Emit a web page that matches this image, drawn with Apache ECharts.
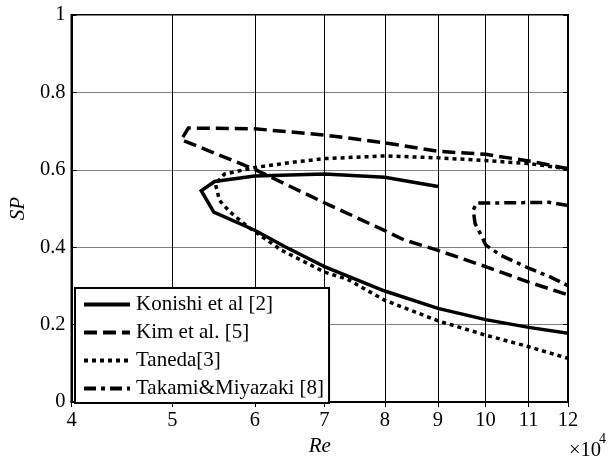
<!DOCTYPE html>
<html>
<head>
<meta charset="utf-8">
<script src="https://cdn.jsdelivr.net/npm/echarts@6/dist/echarts.min.js"></script>
<style>html,body{margin:0;padding:0;background:#fff;}#c{width:611px;height:462px;}</style>
</head>
<body>
<div id="c"></div>
<script>
// x values in units of 10^4 (Re / 1e4), y = SP
var xTicks = [4, 5, 6, 7, 8, 9, 10, 11, 12];
var yTicks = [0, 0.2, 0.4, 0.6, 0.8, 1];

var konishiRe = [9, 8, 7, 6, 5.49, 5.33, 5.48, 6, 6.41, 7, 8, 9, 10, 11, 12];
var konishiSP = [0.557, 0.581, 0.589, 0.584, 0.570, 0.546, 0.491, 0.444, 0.402, 0.350, 0.287, 0.242, 0.213, 0.193, 0.178];

var kimRe = [12, 11, 10, 9, 8, 7, 6, 5.18, 5.10, 6, 7, 8, 8.35, 9, 10, 11, 12];
var kimSP = [0.603, 0.623, 0.640, 0.648, 0.670, 0.690, 0.706, 0.708, 0.678, 0.601, 0.515, 0.443, 0.419, 0.392, 0.350, 0.310, 0.277];

var tanedaRe = [12, 11, 10, 9, 8, 7, 6.5, 6, 5.61, 5.5, 5.55, 5.68, 5.91, 6.36, 7, 7.37, 8, 9, 10, 11, 12];
var tanedaSP = [0.603, 0.616, 0.624, 0.631, 0.636, 0.629, 0.619, 0.606, 0.589, 0.563, 0.521, 0.491, 0.453, 0.393, 0.336, 0.317, 0.263, 0.210, 0.173, 0.143, 0.113];

var takamiRe = [12, 11.5, 9.8, 9.73, 9.77, 9.92, 10, 10.33, 11, 11.5, 12];
var takamiSP = [0.508, 0.516, 0.514, 0.496, 0.461, 0.427, 0.406, 0.380, 0.346, 0.325, 0.301];

var seriesNames = ['Konishi et al [2]', 'Kim et al. [5]', 'Taneda[3]', 'Takami&Miyazaki [8]'];

function pairs(xs, ys) {
  var out = [];
  for (var i = 0; i < xs.length; i++) out.push([xs[i] * 1e4, ys[i]]);
  return out;
}
var tickValues = xTicks.map(function (v) { return v * 1e4; });

var font = "'Liberation Serif', 'Times New Roman', Times, serif";
var chart = echarts.init(document.getElementById('c'), null, { renderer: 'canvas' });

function mkSeries(name, xs, ys, dash, width) {
  return {
    name: name,
    type: 'line',
    data: pairs(xs, ys),
    showSymbol: false,
    symbol: 'none',
    symbolSize: 0,
    smooth: false,
    animation: false,
    lineStyle: { color: '#000', width: width, type: dash, cap: 'butt', join: 'miter' },
    itemStyle: { color: '#000' },
    z: 3
  };
}

chart.setOption({
  animation: false,
  backgroundColor: '#fff',
  grid: { left: 69, right: 43, top: 15, bottom: 55, show: true, borderColor: '#000', borderWidth: 2, containLabel: false },
  legend: {
    left: 75,
    top: 288,
    orient: 'vertical',
    itemWidth: 46,
    itemHeight: 14,
    itemGap: 7,
    padding: [6, 5, 4, 7],
    borderColor: '#000',
    borderWidth: 2,
    backgroundColor: '#fff',
    itemStyle: { color: 'rgba(0,0,0,0)', borderColor: 'rgba(0,0,0,0)', borderWidth: 0, opacity: 0 },
    lineStyle: { width: 4 },
    textStyle: { fontFamily: font, fontSize: 21, color: '#000', padding: [0, 0, 0, 1] },
    data: seriesNames,
    z: 10
  },
  xAxis: [{
    type: 'log',
    logBase: 10,
    min: xTicks[0] * 1e4,
    max: xTicks[xTicks.length - 1] * 1e4,
    name: 'Re',
    nameLocation: 'middle',
    nameGap: 31,
    nameTextStyle: { fontFamily: font, fontSize: 21, fontStyle: 'italic', color: '#000' },
    axisLine: { show: true, onZero: false, lineStyle: { color: '#000', width: 2 } },
    axisTick: { show: true, inside: true, length: 5, customValues: tickValues, lineStyle: { color: '#000' } },
    axisLabel: {
      customValues: tickValues,
      fontFamily: font, fontSize: 20.5, color: '#000', margin: 8,
      formatter: function (v) { return String(Math.round(v / 1e4)); }
    },
    splitLine: { show: true, lineStyle: { color: '#000', width: 1 } },
    minorTick: { show: false },
    minorSplitLine: { show: false }
  }, {
    type: 'log',
    logBase: 10,
    position: 'top',
    min: xTicks[0] * 1e4,
    max: xTicks[xTicks.length - 1] * 1e4,
    axisLine: { show: true, lineStyle: { color: '#000', width: 2 } },
    axisTick: { show: true, inside: true, length: 5, customValues: tickValues, lineStyle: { color: '#000' } },
    axisLabel: { show: false },
    splitLine: { show: false }
  }],
  yAxis: [{
    type: 'value',
    min: yTicks[0],
    max: yTicks[yTicks.length - 1],
    interval: 0.2,
    name: 'SP',
    nameLocation: 'middle',
    nameGap: 40,
    nameTextStyle: { fontFamily: font, fontSize: 21, fontStyle: 'italic', color: '#000' },
    axisLine: { show: true, onZero: false, lineStyle: { color: '#000', width: 2 } },
    axisTick: { show: true, inside: true, length: 5, lineStyle: { color: '#000' } },
    axisLabel: { fontFamily: font, fontSize: 20.5, color: '#000', margin: 6 },
    splitLine: { show: true, lineStyle: { color: '#808080', width: 1 } }
  }, {
    type: 'value',
    position: 'right',
    min: yTicks[0],
    max: yTicks[yTicks.length - 1],
    interval: 0.2,
    axisLine: { show: true, lineStyle: { color: '#000', width: 2 } },
    axisTick: { show: true, inside: true, length: 5, lineStyle: { color: '#000' } },
    axisLabel: { show: false },
    splitLine: { show: false }
  }],
  graphic: [{
    type: 'text',
    left: 569,
    top: 440,
    style: { text: '×10', fontFamily: font, fontSize: 20.5, fill: '#000' }
  }, {
    type: 'text',
    left: 599,
    top: 432,
    style: { text: '4', fontFamily: font, fontSize: 14, fill: '#000' }
  }],
  series: [
    mkSeries(seriesNames[0], konishiRe, konishiSP, 'solid', 3.5),
    mkSeries(seriesNames[1], kimRe, kimSP, [13, 6], 3.5),
    mkSeries(seriesNames[2], tanedaRe, tanedaSP, [4, 4], 3.5),
    mkSeries(seriesNames[3], takamiRe, takamiSP, [12, 5, 4, 5], 3.5)
  ]
});
</script>
</body>
</html>
